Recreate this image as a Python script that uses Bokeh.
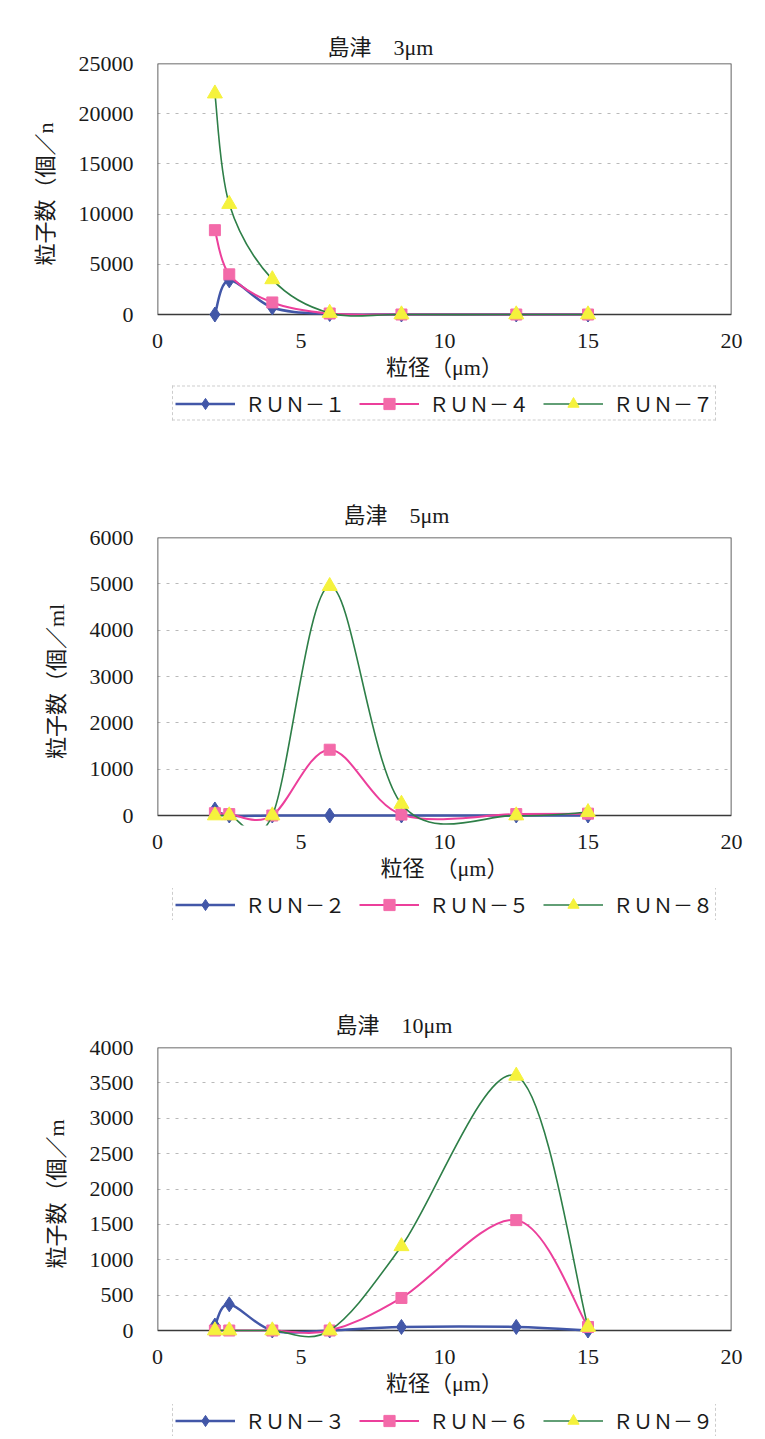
from bokeh.plotting import figure
from bokeh.layouts import column
from bokeh.models import Range1d, FixedTicker, BoxAnnotation, Legend, LegendItem, Title
from bokeh.embed import file_html
from bokeh.resources import INLINE

# ---------------- data ----------------
x_um = [2, 2.5, 4, 6, 8.5, 12.5, 15]
x_ticks = [0, 5, 10, 15, 20]

# 島津 3μm
run1 = [0, 3400, 700, 50, 0, 0, 0]
run4 = [8400, 4000, 1200, 100, 0, 0, 0]
run7 = [22000, 11000, 3500, 150, 0, 0, 0]
y_ticks_3um = [0, 5000, 10000, 15000, 20000, 25000]

# 島津 5μm
run2 = [130, 0, 0, 0, 0, 0, 0]
run5 = [50, 30, 0, 1420, 20, 30, 40]
run8 = [0, 0, 0, 4950, 250, 0, 70]
y_ticks_5um = [0, 1000, 2000, 3000, 4000, 5000, 6000]

# 島津 10μm
run3 = [70, 370, 0, 0, 50, 50, 0]
run6 = [0, 0, 0, 0, 460, 1560, 50]
run9 = [0, 0, 0, 0, 1190, 3600, 50]
y_ticks_10um = [0, 500, 1000, 1500, 2000, 2500, 3000, 3500, 4000]

titles = ["島津　3μm", "島津　5μm", "島津　10μm"]
x_labels = ["粒径（μm）", "粒径　（μm）", "粒径（μm）"]
y_labels = ["粒子数（個／n", "粒子数（個／ml", "粒子数（個／m"]
legend_names = [["ＲＵＮ－１", "ＲＵＮ－４", "ＲＵＮ－７"],
                ["ＲＵＮ－２", "ＲＵＮ－５", "ＲＵＮ－８"],
                ["ＲＵＮ－３", "ＲＵＮ－６", "ＲＵＮ－９"]]

# ---------------- styles ----------------
SERIF = "Liberation Serif, Noto Sans CJK JP"
CJK = "Noto Sans CJK JP"
STYLES = [
    dict(line="#4257a8", fill="#4257a8", marker="diamond", size=15, lw=2.5),
    dict(line="#ec3f9b", fill="#f36aa9", marker="square", size=11, lw=2.0),
    dict(line="#2e7f48", fill="#f5f23c", marker="triangle", size=15, lw=1.6),
]
FIG_W = 760
PAD = 10


def smooth_segments(xs, ys):
    """Bezier control points of a Catmull-Rom style smoothed line (Excel-like)."""
    n = len(xs)
    seg = dict(x0=[], y0=[], x1=[], y1=[], cx0=[], cy0=[], cx1=[], cy1=[])
    for i in range(n - 1):
        a = max(i - 1, 0)
        d = min(i + 2, n - 1)
        seg["x0"].append(xs[i]); seg["y0"].append(ys[i])
        seg["x1"].append(xs[i + 1]); seg["y1"].append(ys[i + 1])
        seg["cx0"].append(xs[i] + (xs[i + 1] - xs[a]) / 6.0)
        seg["cy0"].append(ys[i] + (ys[i + 1] - ys[a]) / 6.0)
        seg["cx1"].append(xs[i + 1] - (xs[d] - xs[i]) / 6.0)
        seg["cy1"].append(ys[i + 1] - (ys[d] - ys[i]) / 6.0)
    return seg


def make_chart(title, xlabel, ylabel, series, yticks, geo):
    ymax = yticks[-1]
    frame_h = geo["data_h"] + PAD
    ystart = -PAD / geo["data_h"] * ymax
    height = geo["fig_bottom"] - geo["fig_top"]
    top_b = geo["data_top"] - geo["fig_top"]
    p = figure(width=FIG_W, height=height,
               x_range=Range1d(0, 20), y_range=Range1d(ystart, ymax),
               output_backend="svg", toolbar_location=None,
               min_border_left=geo["left"],
               min_border_right=FIG_W - geo["left"] - geo["frame_w"],
               min_border_top=top_b,
               min_border_bottom=height - top_b - frame_h)
    p.title = Title(text=title, align="left", offset=geo["title_off"],
                    standoff=geo["title_standoff"],
                    text_font=SERIF, text_font_size="22px",
                    text_font_style="normal", text_color="#1a1a1a")
    p.outline_line_color = None
    p.background_fill_color = "white"
    p.border_fill_color = "white"

    p.xgrid.visible = False
    p.ygrid.ticker = FixedTicker(ticks=yticks[1:])
    p.ygrid.grid_line_color = "#b9b9b9"
    p.ygrid.grid_line_dash = "3 6"
    p.ygrid.grid_line_width = 1

    p.xaxis.ticker = FixedTicker(ticks=x_ticks)
    p.yaxis.ticker = FixedTicker(ticks=yticks)
    for ax in (p.xaxis[0], p.yaxis[0]):
        ax.axis_line_color = None
        ax.major_tick_line_color = None
        ax.minor_tick_line_color = None
        ax.major_label_text_font = "Liberation Serif"
        ax.major_label_text_font_size = "22px"
        ax.major_label_text_color = "#1a1a1a"
        ax.axis_label_text_font = SERIF
        ax.axis_label_text_font_size = "22px"
        ax.axis_label_text_font_style = "normal"
        ax.axis_label_text_color = "#1a1a1a"
    p.xaxis.major_label_standoff = 3
    p.yaxis.major_label_standoff = 18
    p.xaxis.axis_label = xlabel
    p.yaxis.axis_label = ylabel
    p.xaxis.axis_label_standoff = 4
    p.yaxis.axis_label_standoff = 18

    box = BoxAnnotation(left=0, right=20, bottom=0, top=ymax,
                        fill_color=None, fill_alpha=0,
                        line_color="#3a3a3a", line_alpha=1.0, line_width=1.6,
                        level="underlay")
    p.add_layout(box)

    for ys, st in zip(series, STYLES):
        seg = smooth_segments(x_um, ys)
        p.bezier(x0=seg["x0"], y0=seg["y0"], x1=seg["x1"], y1=seg["y1"],
                 cx0=seg["cx0"], cy0=seg["cy0"], cx1=seg["cx1"], cy1=seg["cy1"],
                 line_color=st["line"], line_width=st["lw"])
        p.scatter(x=x_um, y=ys, marker=st["marker"], size=st["size"],
                  fill_color=st["fill"], line_color=st["fill"])
    return p


def make_legend(names, h):
    lf = figure(width=FIG_W, height=h, x_range=Range1d(0, 1), y_range=Range1d(0, 1),
                x_axis_type=None, y_axis_type=None, output_backend="svg",
                toolbar_location=None, min_border=0, min_border_left=124)
    lf.outline_line_color = None
    lf.grid.visible = False
    lf.background_fill_color = "white"
    lf.border_fill_color = "white"
    items = []
    nan = float("nan")
    for name, st in zip(names, STYLES):
        ln = lf.line(x=[nan], y=[nan], line_color=st["line"], line_width=st["lw"])
        sc = lf.scatter(x=[nan], y=[nan], marker=st["marker"], size=st["size"],
                        fill_color=st["fill"], line_color=st["fill"])
        items.append(LegendItem(label=name, renderers=[ln, sc]))
    legend = Legend(items=items, orientation="horizontal", location="center",
                    label_text_font=CJK, label_text_font_size="20px",
                    label_text_color="#1a1a1a",
                    glyph_width=60, glyph_height=28, label_standoff=10,
                    spacing=14, padding=2, margin=0,
                    border_line_color="#9a9a9a", border_line_dash="3 3",
                    border_line_width=1, background_fill_color="white")
    lf.add_layout(legend)
    return lf


geos = [
    dict(fig_top=0, fig_bottom=384, left=157, frame_w=574, data_top=63, data_h=251,
         title_off=170, title_standoff=8),
    dict(fig_top=422, fig_bottom=888, left=146, frame_w=590, data_top=537, data_h=278,
         title_off=186, title_standoff=19),
    dict(fig_top=920, fig_bottom=1404, left=146, frame_w=590, data_top=1047, data_h=283,
         title_off=178, title_standoff=19),
]
legend_heights = [38, 32, 32]

charts = [
    make_chart(titles[0], x_labels[0], y_labels[0], [run1, run4, run7], y_ticks_3um, geos[0]),
    make_chart(titles[1], x_labels[1], y_labels[1], [run2, run5, run8], y_ticks_5um, geos[1]),
    make_chart(titles[2], x_labels[2], y_labels[2], [run3, run6, run9], y_ticks_10um, geos[2]),
]
legends = [make_legend(legend_names[i], legend_heights[i]) for i in range(3)]

layout = column(charts[0], legends[0], charts[1], legends[1], charts[2], legends[2], spacing=0)
open("out.html", "w").write(file_html(layout, INLINE))
